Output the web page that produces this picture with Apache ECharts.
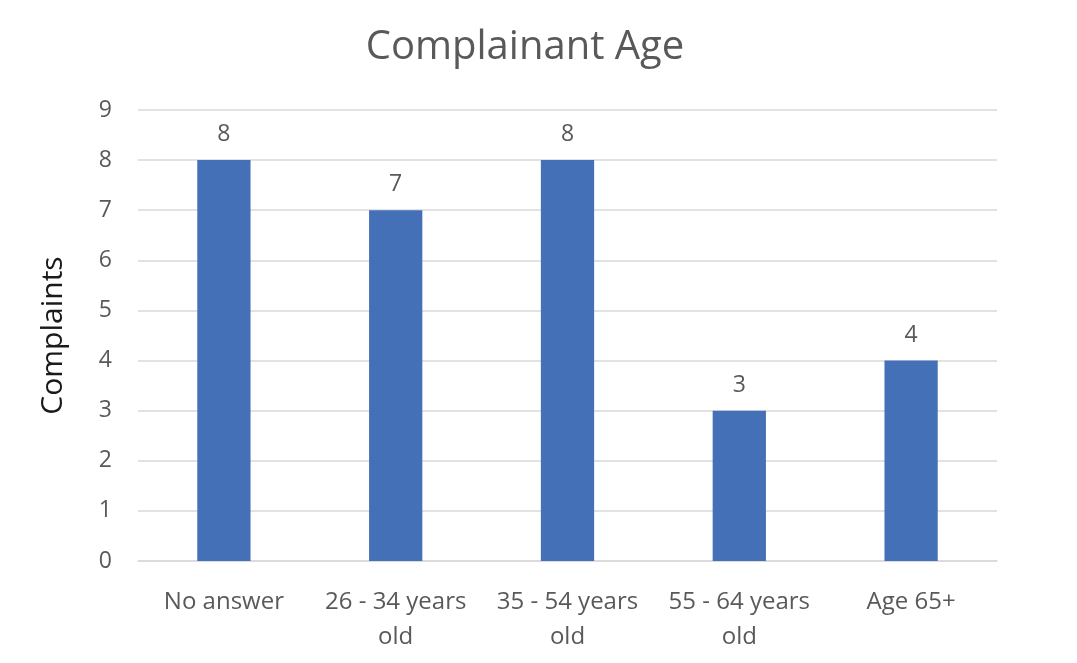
<!DOCTYPE html>
<html><head><meta charset="utf-8">
<script src="https://cdn.jsdelivr.net/npm/echarts@6/dist/echarts.min.js"></script>
<style>html,body{margin:0;padding:0;background:#fff}#c{width:1077px;height:663px}</style>
</head><body><div id="c"></div>
<script>
const categories = ["No answer", "26 - 34 years\nold", "35 - 54 years\nold", "55 - 64 years\nold", "Age 65+"];
const complaints = [8, 7, 8, 3, 4];
const yTicks = [0, 9, 1];
const chart = echarts.init(document.getElementById('c'));
const font = "'Open Sans', sans-serif";
chart.setOption({
  animation: false,
  title: { text: "Complainant Age", left: 520, top: 23, textAlign: 'center',
    textStyle: { fontFamily: font, fontSize: 40, fontWeight: 'normal', color: '#595959' } },
  grid: { left: 138, right: 80, top: 110, bottom: 102 },
  xAxis: { type: 'category', data: categories,
    axisLine: { lineStyle: { color: '#d9d9d9', width: 1.5 } }, axisTick: { show: false },
    axisLabel: { fontFamily: font, fontSize: 24, color: '#595959', margin: 24, lineHeight: 35, interval: 0 } },
  yAxis: { type: 'value', min: yTicks[0], max: yTicks[1], interval: yTicks[2],
    name: 'Complaints', nameLocation: 'middle', nameGap: 70, nameRotate: 90,
    nameTextStyle: { fontFamily: font, fontSize: 30, color: '#1a1a1a' },
    axisLine: { show: false }, axisTick: { show: false },
    splitLine: { lineStyle: { color: '#d9d9d9', width: 1.5 } },
    axisLabel: { fontFamily: font, fontSize: 23, color: '#595959', margin: 26 } },
  series: [{ type: 'bar', data: complaints, barWidth: '31%',
    itemStyle: { color: '#4470b8' },
    label: { show: true, position: 'top', distance: 14, fontFamily: font, fontSize: 23, color: '#595959' } }]
});
</script></body></html>
